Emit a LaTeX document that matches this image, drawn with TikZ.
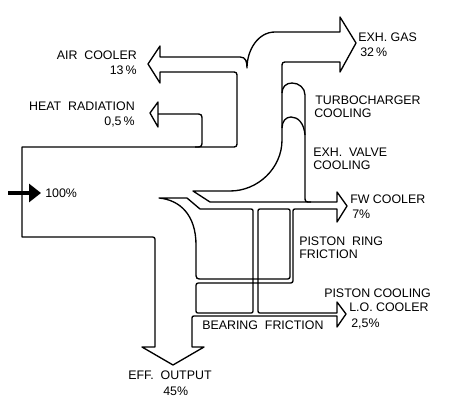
\documentclass[tikz,border=0pt]{standalone}
\usepackage{fontspec}
\setmainfont{Liberation Sans}
\usepackage{tikz}
\usetikzlibrary{arrows.meta}

\begin{document}
\begin{tikzpicture}[x=0.75pt, y=-0.75pt]
    \tikzstyle{flow} = [draw=black, line width=1pt, line join=round]
    \tikzstyle{lbl} = [inner sep=0pt, font=\fontsize{9.3}{10}\selectfont]
    \tikzstyle{feed} = [line width=2.6pt, -{Triangle[length=9pt, width=13.5pt]}]

    \useasboundingbox (0,0) rectangle (460,414);

    % Main energy stream
    \draw [flow] (22,147) -- (22,237)
        -- (150,237) .. controls (155,237) .. (155,242)
        -- (155,347) -- (142,347) -- (173,365) -- (204,347) -- (192,347)
        -- (192,320) .. controls (192,316) .. (196,316)
        -- (337,316) -- (337,327) -- (346,314) -- (337,302) -- (337,313)
        -- (262,313) .. controls (258,313) .. (258,309)
        -- (258,213) .. controls (258,209) .. (262,209)
        -- (286,209) .. controls (290,209) .. (290,213)
        -- (290,274) .. controls (290,279) .. (285,279)
        -- (203,279) .. controls (196,279) .. (196,272)
        -- (196,245) .. controls (196,215) and (180,200) .. (159,198)
        -- (187,198) -- (200,209)
        -- (249,209) .. controls (253,209) .. (253,213)
        -- (253,309) .. controls (253,313) .. (249,313)
        -- (200,313) .. controls (196,313) .. (196,309)
        -- (196,288) .. controls (196,283) .. (201,283)
        -- (288,283) .. controls (293,283) .. (293,278)
        -- (293,213) .. controls (293,209) .. (297,209)
        -- (337,209) -- (337,222) -- (347,206) -- (337,192) -- (337,202)
        -- (210,202) -- (193,191)
        -- (230,191) .. controls (258,191) and (282,168) .. (282,140)
        -- (282,68) .. controls (282,62) .. (288,62)
        -- (340,62) -- (340,72) -- (356,43) -- (340,17) -- (340,32)
        -- (275,32) .. controls (258,32) and (247,50) .. (247,68)
        .. controls (247,62) and (246,57) .. (240,57)
        -- (160,57) -- (160,46) -- (148,64) -- (160,83) -- (160,72)
        -- (231,72) .. controls (237,72) .. (237,78)
        -- (237,141) .. controls (237,147) .. (231,147)
        -- cycle;

    % Heat radiation
    \draw [flow] (195,147) .. controls (202,147) .. (202,140) -- (202,121)
        .. controls (202,114) .. (195,114) -- (158,114);
    \draw [flow] (158,102) -- (150,113) -- (158,127) -- cycle;

    % Turbocharger and exh. valve cooling
    \draw [flow] (282,93) .. controls (282,87) and (286,83) .. (292,83)
        .. controls (299,83) and (305,88) .. (305,95) -- (305,196)
        .. controls (305,202) .. (311,202);
    \draw [flow] (282,128) .. controls (282,121) and (286,117) .. (291,117)
        .. controls (298,117) and (304,123) .. (305,135);

    % Input
    \coordinate (fuel) at (8,193);
    \coordinate (inlet) at (41,193);
    \draw [feed] (fuel) -- (inlet);

    % Labels
    \node [lbl, anchor=base east] (aircool) at (137,59) {AIR\ \ COOLER};
    \node [lbl, anchor=base east] (aircoolpct) at (137,74) {13\,\%};
    \node [lbl, anchor=base east] (heatrad) at (135,110) {HEAT\ \ RADIATION};
    \node [lbl, anchor=base east] (heatradpct) at (135,125) {0,5\,\%};
    \node [lbl, anchor=base west] (inpct) at (45,197) {100\%};
    \node [lbl, anchor=base west] (exhgas) at (358,41) {EXH.\ GAS};
    \node [lbl, anchor=base west] (exhgaspct) at (360,56) {32\,\%};
    \node [lbl, anchor=base west] (turbo) at (315,104) {TURBOCHARGER};
    \node [lbl, anchor=base west] (turbocool) at (314,117) {COOLING};
    \node [lbl, anchor=base west] (valve) at (313,156) {EXH.\ \ VALVE};
    \node [lbl, anchor=base west] (valvecool) at (313,169) {COOLING};
    \node [lbl, anchor=base west] (fw) at (350,203) {FW\ COOLER};
    \node [lbl, anchor=base west] (fwpct) at (352,218) {7\%};
    \node [lbl, anchor=base west] (ring) at (299,245) {PISTON\ \ RING};
    \node [lbl, anchor=base west] (ringfric) at (299,258) {FRICTION};
    \node [lbl, anchor=base west] (pistcool) at (324,297) {PISTON COOLING};
    \node [lbl, anchor=base west] (locool) at (349,311) {L.O.\ COOLER};
    \node [lbl, anchor=base west] (locoolpct) at (351,327) {2,5\%};
    \node [lbl, anchor=base west] (bearing) at (202,329) {BEARING\ \ FRICTION};
    \node [lbl, anchor=base west] (output) at (128,379) {EFF.\ \ OUTPUT};
    \node [lbl, anchor=base west] (outputpct) at (163,395) {45\%};
\end{tikzpicture}
\end{document}
